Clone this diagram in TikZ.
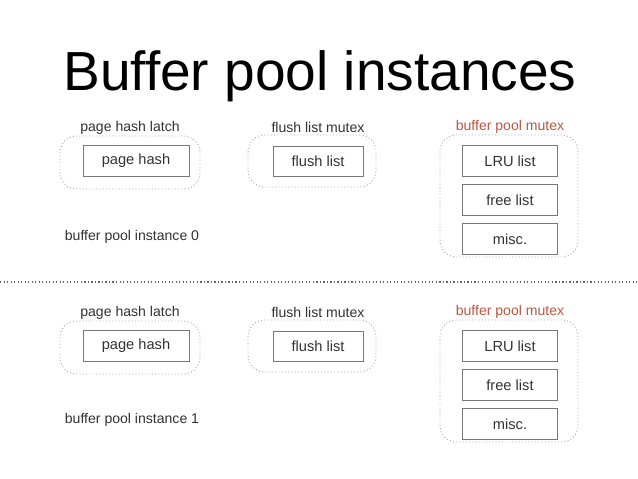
\documentclass[tikz,border=0pt]{standalone}
\usepackage{fontspec}
\setmainfont{Liberation Sans}
\usetikzlibrary{positioning}
\definecolor{boxGray}{RGB}{120,120,120}
\definecolor{textGray}{RGB}{50,50,50}
\definecolor{mutexRed}{RGB}{190,85,65}
\tikzset{
  listbox/.style={draw=boxGray, line width=0.8pt, text=textGray, font=\fontsize{12.5}{14}\selectfont},
  lockarea/.style={draw=gray!70, dotted, line width=0.8pt, rounded corners=14pt},
  locklabel/.style={text=textGray, font=\fontsize{12}{14}\selectfont}
}
\begin{document}
\begin{tikzpicture}[x=0.03cm, y=-0.03cm]
  \useasboundingbox (0,0) rectangle (638,479);
  % title
  \node[font=\fontsize{47}{50}\selectfont] (title) at (320,76) {Buffer pool instances};
  % separator
  \draw[dotted, line width=1pt, gray!80!black] (0,282) -- (638,282);
  % two instances
  \foreach \dy/\idx in {0/0, 185/1} {
    \draw[lockarea] (60,136+\dy) rectangle (200,189+\dy);
    \draw[lockarea] (248,135+\dy) rectangle (376,187+\dy);
    \draw[lockarea] (440,135+\dy) rectangle (578,257+\dy);
    \node[listbox, minimum width=3.18cm, minimum height=0.93cm] (hash\idx) at (136,161+\dy) {page hash};
    \node[listbox, minimum width=2.7cm, minimum height=0.9cm] (flush\idx) at (318,161+\dy) {flush list};
    \node[listbox, minimum width=2.85cm, minimum height=0.93cm] (lru\idx) at (510,161+\dy) {LRU list};
    \node[listbox, minimum width=2.85cm, minimum height=0.93cm] (free\idx) at (510,200+\dy) {free list};
    \node[listbox, minimum width=2.85cm, minimum height=0.93cm] (misc\idx) at (510,239+\dy) {misc.};
    \node[locklabel] (latch\idx) at (130,128+\dy) {page hash latch};
    \node[locklabel] (fmutex\idx) at (318,127+\dy) {flush list mutex};
    \node[locklabel, text=mutexRed] (bmutex\idx) at (510,127+\dy) {buffer pool mutex};
    \node[locklabel] (inst\idx) at (132,237+\dy*0.99) {buffer pool instance \idx};
  }
\end{tikzpicture}
\end{document}
